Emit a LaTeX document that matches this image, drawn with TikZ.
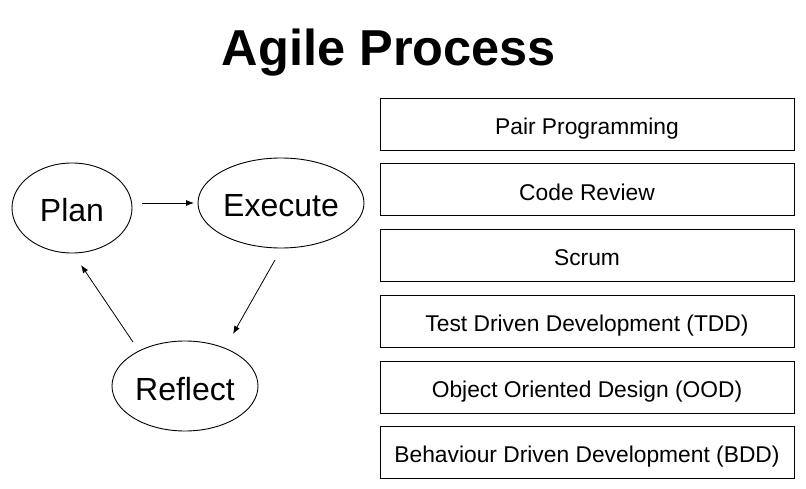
\documentclass[tikz,border=0pt]{standalone}
\usepackage{fontspec}
\setmainfont{Liberation Sans}
\usetikzlibrary{shapes.geometric,arrows.meta}
\tikzset{
  stage/.style={ellipse, draw, line width=0.9pt, inner sep=0pt, font=\fontsize{32}{36}\selectfont, text height=28pt, text depth=0pt},
  practice/.style={rectangle, draw, line width=0.9pt, minimum width=414pt, minimum height=52pt, inner sep=0pt, font=\fontsize{22.8}{26}\selectfont, text height=21.4pt, text depth=0pt},
  flow/.style={line width=0.8pt, -{Latex[length=8pt,width=6pt]}},
  titletext/.style={font=\fontsize{50.5}{56}\bfseries\selectfont, anchor=base, inner sep=0pt}
}
\begin{document}
\begin{tikzpicture}[x=1pt,y=-1pt]
\useasboundingbox (0,0) rectangle (806,489);
\node[titletext] (title) at (389,65.5) {Agile Process};

\node[stage, minimum width=120pt, minimum height=90pt] (plan) at (72,208) {Plan};
\node[stage, minimum width=166pt, minimum height=90pt] (exec) at (281,203) {Execute};
\node[stage, minimum width=146pt, minimum height=90pt] (refl) at (185,386) {Reflect};

\coordinate (a1) at (142,203);
\coordinate (a2) at (194,203);
\coordinate (b1) at (275,260);
\coordinate (b2) at (233,334);
\coordinate (c1) at (133,342);
\coordinate (c2) at (81,265);
\draw[flow] (a1) -- (a2);
\draw[flow] (b1) -- (b2);
\draw[flow] (c1) -- (c2);

\node[practice] (p1) at (587,124) {Pair Programming};
\node[practice] (p2) at (587,189.5) {Code Review};
\node[practice] (p3) at (587,255) {Scrum};
\node[practice] (p4) at (587,321) {Test Driven Development (TDD)};
\node[practice] (p5) at (587,387) {Object Oriented Design (OOD)};
\node[practice] (p6) at (587,452) {Behaviour Driven Development (BDD)};
\end{tikzpicture}
\end{document}
